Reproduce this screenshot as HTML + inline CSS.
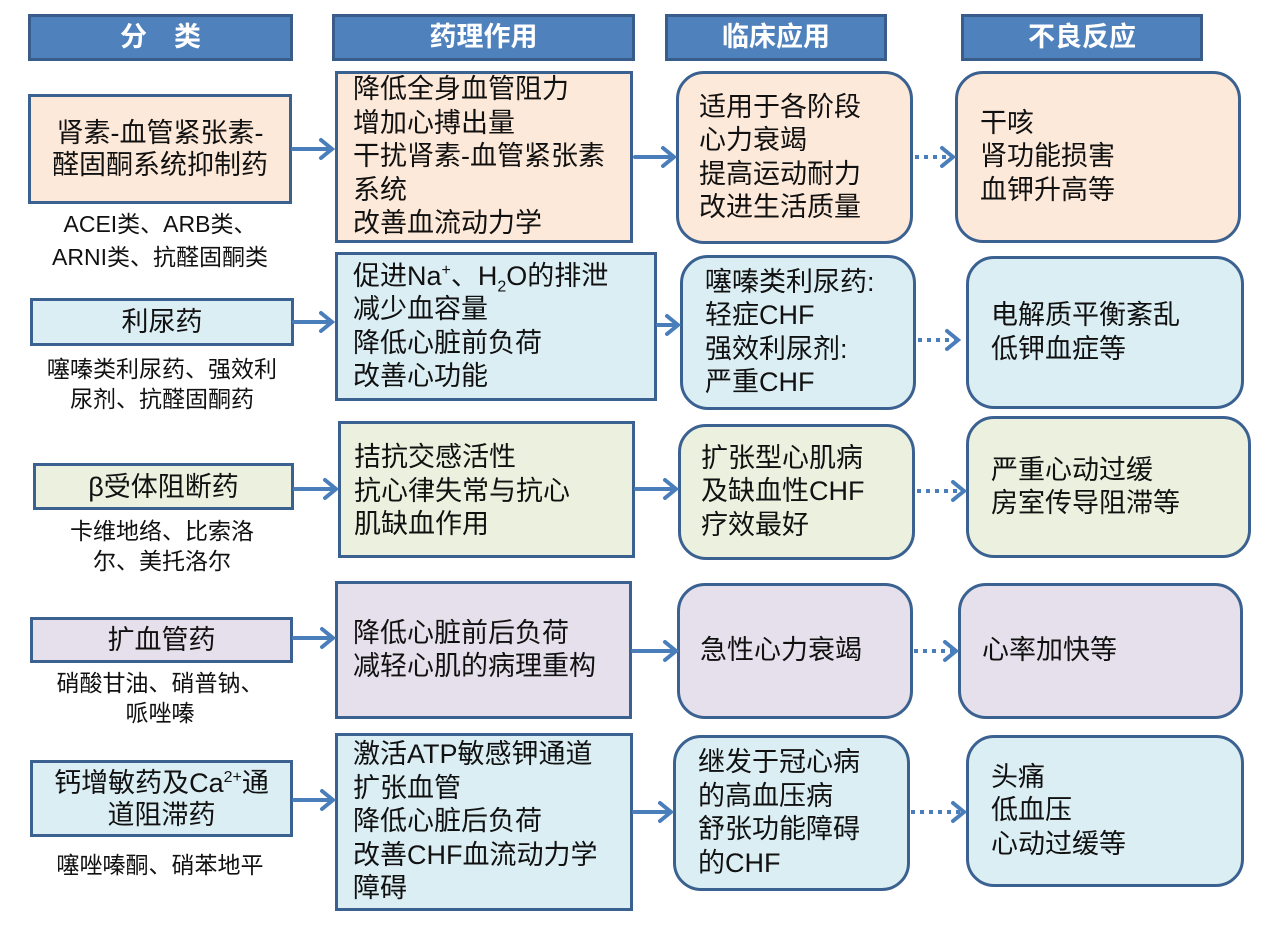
<!DOCTYPE html>
<html><head><meta charset="utf-8"><style>
body{margin:0;width:1266px;height:943px;background:#fff;position:relative;overflow:hidden;font-family:"Liberation Sans","Noto Sans CJK SC",sans-serif;color:#111}
.b{position:absolute;box-sizing:border-box;border:3px solid #3b6191;display:flex;flex-direction:column;justify-content:center;font-size:27px;line-height:33.5px;white-space:nowrap}
.h{background:#4f81bd;color:#fff;font-weight:bold;align-items:center;font-size:27px;border-color:#385d8a}
.c{align-items:center;text-align:center;line-height:32px}
.r{border-radius:28px}
.s{position:absolute;font-size:23px;line-height:30px;text-align:center;white-space:nowrap}
.o{background:#fde9d9}.bl{background:#dbeef4}.g{background:#ebf1de}.p{background:#e5e0ec}
sup,sub{font-size:16px;line-height:0}
</style></head><body>
<div class="b h" style="left:28px;top:14px;width:265px;height:47px"><div>分　类</div></div>
<div class="b h" style="left:332px;top:14px;width:303px;height:47px"><div>药理作用</div></div>
<div class="b h" style="left:665px;top:14px;width:222px;height:47px"><div>临床应用</div></div>
<div class="b h" style="left:961px;top:14px;width:242px;height:47px"><div>不良反应</div></div>

<div class="b c o" style="left:28px;top:94px;width:264px;height:110px"><div>肾素-血管紧张素-<br>醛固酮系统抑制药</div></div>
<div class="s" style="left:28px;top:208px;width:264px;line-height:33px">ACEI类、ARB类、<br>ARNI类、抗醛固酮类</div>
<div class="b o" style="left:335px;top:71px;width:298px;height:172px;padding-left:15px"><div>降低全身血管阻力<br>增加心搏出量<br>干扰肾素-血管紧张素<br>系统<br>改善血流动力学</div></div>
<div class="b r o" style="left:676px;top:71px;width:237px;height:173px;padding-left:20px"><div>适用于各阶段<br>心力衰竭<br>提高运动耐力<br>改进生活质量</div></div>
<div class="b r o" style="left:955px;top:71px;width:286px;height:172px;padding-left:22px"><div>干咳<br>肾功能损害<br>血钾升高等</div></div>

<div class="b c bl" style="left:30px;top:298px;width:264px;height:48px"><div>利尿药</div></div>
<div class="s" style="left:30px;top:354px;width:264px">噻嗪类利尿药、强效利<br>尿剂、抗醛固酮药</div>
<div class="b bl" style="left:335px;top:252px;width:322px;height:149px;padding-left:15px"><div>促进Na<sup>+</sup>、H<sub>2</sub>O的排泄<br>减少血容量<br>降低心脏前负荷<br>改善心功能</div></div>
<div class="b r bl" style="left:680px;top:255px;width:236px;height:155px;padding-left:22px"><div>噻嗪类利尿药:<br>轻症CHF<br>强效利尿剂:<br>严重CHF</div></div>
<div class="b r bl" style="left:966px;top:256px;width:278px;height:153px;padding-left:22px"><div>电解质平衡紊乱<br>低钾血症等</div></div>

<div class="b c g" style="left:33px;top:463px;width:261px;height:47px"><div>β受体阻断药</div></div>
<div class="s" style="left:30px;top:516px;width:264px">卡维地络、比索洛<br>尔、美托洛尔</div>
<div class="b g" style="left:338px;top:421px;width:297px;height:137px;padding-left:13px;justify-content:flex-start;padding-top:17px"><div>拮抗交感活性<br>抗心律失常与抗心<br>肌缺血作用</div></div>
<div class="b r g" style="left:678px;top:424px;width:237px;height:136px;padding-left:20px"><div>扩张型心肌病<br>及缺血性CHF<br>疗效最好</div></div>
<div class="b r g" style="left:966px;top:416px;width:285px;height:142px;padding-left:22px"><div>严重心动过缓<br>房室传导阻滞等</div></div>

<div class="b c p" style="left:30px;top:617px;width:263px;height:46px"><div>扩血管药</div></div>
<div class="s" style="left:28px;top:668px;width:264px">硝酸甘油、硝普钠、<br>哌唑嗪</div>
<div class="b p" style="left:335px;top:581px;width:297px;height:138px;padding-left:15px"><div>降低心脏前后负荷<br>减轻心肌的病理重构</div></div>
<div class="b r p" style="left:677px;top:583px;width:236px;height:136px;padding-left:20px"><div>急性心力衰竭</div></div>
<div class="b r p" style="left:958px;top:583px;width:285px;height:136px;padding-left:21px"><div>心率加快等</div></div>

<div class="b c bl" style="left:30px;top:760px;width:263px;height:77px"><div>钙增敏药及Ca<sup>2+</sup>通<br>道阻滞药</div></div>
<div class="s" style="left:28px;top:850px;width:264px">噻唑嗪酮、硝苯地平</div>
<div class="b bl" style="left:335px;top:733px;width:298px;height:178px;padding-left:15px"><div>激活ATP敏感钾通道<br>扩张血管<br>降低心脏后负荷<br>改善CHF血流动力学<br>障碍</div></div>
<div class="b r bl" style="left:673px;top:735px;width:237px;height:156px;padding-left:22px"><div>继发于冠心病<br>的高血压病<br>舒张功能障碍<br>的CHF</div></div>
<div class="b r bl" style="left:966px;top:735px;width:278px;height:152px;padding-left:22px"><div>头痛<br>低血压<br>心动过缓等</div></div>

<svg width="1266" height="943" style="position:absolute;left:0;top:0" fill="none" stroke="#4a7ebb" stroke-width="4" stroke-linecap="round">
<g>
<path d="M293 149H331M321 140L332 149L321 158"/>
<path d="M635 157H673M663 148L674 157L663 166"/>
<path d="M294 322H331M321 313L332 322L321 331"/>
<path d="M658 325H677M667 316L678 325L667 334"/>
<path d="M295 489H335M325 480L336 489L325 498"/>
<path d="M636 489H675M665 480L676 489L665 498"/>
<path d="M294 638H332M322 629L333 638L322 647"/>
<path d="M633 651H675M665 642L676 651L665 660"/>
<path d="M294 800H332M322 791L333 800L322 809"/>
<path d="M634 812H670M660 803L671 812L660 821"/>
<path d="M942 148L953 157L942 166"/>
<path d="M947 331L958 340L947 349"/>
<path d="M953 482L964 491L953 500"/>
<path d="M945 642L956 651L945 660"/>
<path d="M953 803L964 812L953 821"/>
</g>
<g stroke-dasharray="4 5" stroke-linecap="butt">
<path d="M915 157H952"/>
<path d="M918 340H957"/>
<path d="M917 491H963"/>
<path d="M914 651H955"/>
<path d="M911 812H963"/>
</g>
</svg>
</body></html>
